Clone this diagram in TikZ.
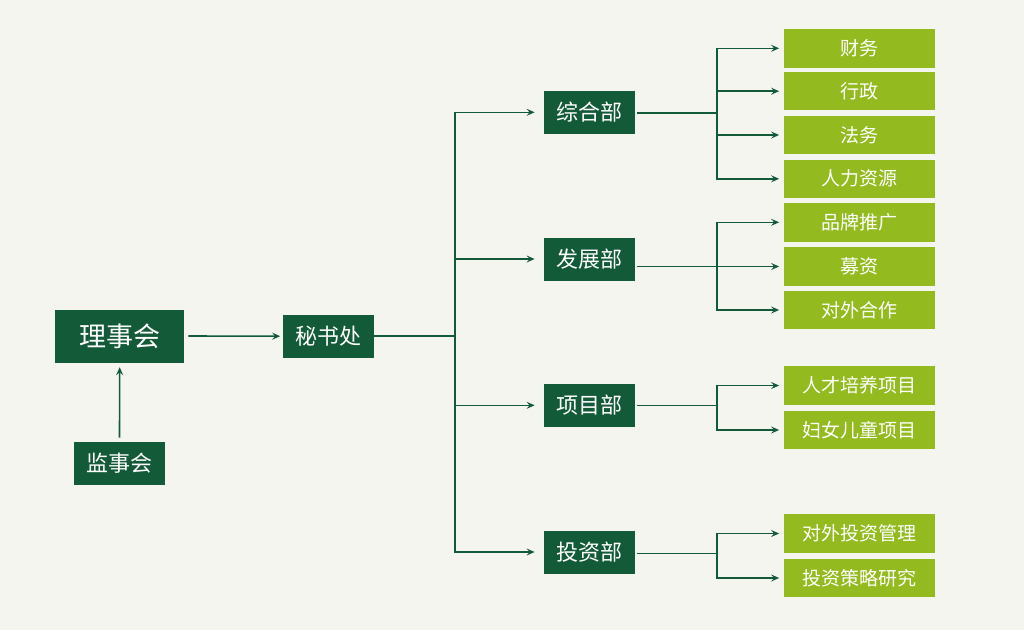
\documentclass[tikz,border=0pt]{standalone}
\usepackage{fontspec}
\setmainfont{Noto Sans CJK SC}
\usetikzlibrary{arrows.meta}
\definecolor{bgc}{HTML}{F5F5F0}
\definecolor{dkg}{HTML}{135A38}
\definecolor{ltg}{HTML}{93BB1F}
\tikzset{
  dbox/.style={fill=dkg,text=white,inner sep=0pt,font=\fontsize{22}{24}\selectfont},
  lbox/.style={fill=ltg,text=white,inner sep=0pt,minimum width=151pt,minimum height=38.5pt,font=\fontsize{19}{21}\selectfont},
  dept/.style={dbox,minimum width=91pt,minimum height=43pt},
  conn/.style={draw=dkg,line width=1.6pt},
  arr/.style={conn,-{Stealth[length=8pt,width=7pt,inset=3pt]}}
}
\begin{document}
\begin{tikzpicture}[x=1pt,y=-1pt]
\fill[bgc] (0,0) rectangle (1024,630);
\useasboundingbox (0,0) rectangle (1024,630);
% left part
\node[dbox,minimum width=129pt,minimum height=53pt,font=\fontsize{27}{29}\selectfont] (lsh) at (119.7,336) {理事会};
\node[dbox,minimum width=90.5pt,minimum height=43pt] (jsh) at (119.5,463.3) {监事会};
\node[dbox,minimum width=90.7pt,minimum height=43pt] (msc) at (328.7,336.2) {秘书处};
% departments
\node[dept] (zh) at (589.3,112.3) {综合部};
\node[dept] (fz) at (589.3,259) {发展部};
\node[dept] (xm) at (589.3,405.3) {项目部};
\node[dept] (tz) at (589.3,552) {投资部};
% sub items
\node[lbox] (s1) at (859.3,48.3) {财务};
\node[lbox] (s2) at (859.3,91.2) {行政};
\node[lbox] (s3) at (859.3,135) {法务};
\node[lbox] (s4) at (859.3,178.8) {人力资源};
\node[lbox] (s5) at (859.3,222.3) {品牌推广};
\node[lbox] (s6) at (859.3,266.5) {募资};
\node[lbox] (s7) at (859.3,310) {对外合作};
\node[lbox] (s8) at (859.3,385.5) {人才培养项目};
\node[lbox] (s9) at (859.3,430) {妇女儿童项目};
\node[lbox] (s10) at (859.3,533.5) {对外投资管理};
\node[lbox] (s11) at (859.3,578) {投资策略研究};
% junctions
\coordinate (j0) at (455,336.2);
\coordinate (k1) at (717,113);
\coordinate (k2) at (717,266.3);
\coordinate (k3) at (717,405.3);
\coordinate (k4) at (717,553.5);
% connectors
\draw[arr] ([yshift=4pt]jsh.north) -- ([yshift=-4.5pt]lsh.south);
\draw[arr] ([xshift=4pt]lsh.east) -- ([xshift=-3pt]msc.west);
\draw[conn] (msc.east) -- (j0);
\foreach \d in {zh,fz,xm,tz}{
  \draw[arr] (j0) |- ([xshift=-9pt]\d.west);
}
\draw[conn] ([xshift=2pt]zh.east |- k1) -- (k1);
\draw[conn] ([xshift=2pt]fz.east |- k2) -- (k2);
\draw[conn] ([xshift=2pt]xm.east |- k3) -- (k3);
\draw[conn] ([xshift=2pt]tz.east |- k4) -- (k4);
\foreach \s in {s1,s2,s3,s4}{\draw[arr] (k1) |- ([xshift=-4.5pt]\s.west);}
\foreach \s in {s5,s6,s7}{\draw[arr] (k2) |- ([xshift=-4.5pt]\s.west);}
\foreach \s in {s8,s9}{\draw[arr] (k3) |- ([xshift=-4.5pt]\s.west);}
\foreach \s in {s10,s11}{\draw[arr] (k4) |- ([xshift=-4.5pt]\s.west);}
\end{tikzpicture}
\end{document}
